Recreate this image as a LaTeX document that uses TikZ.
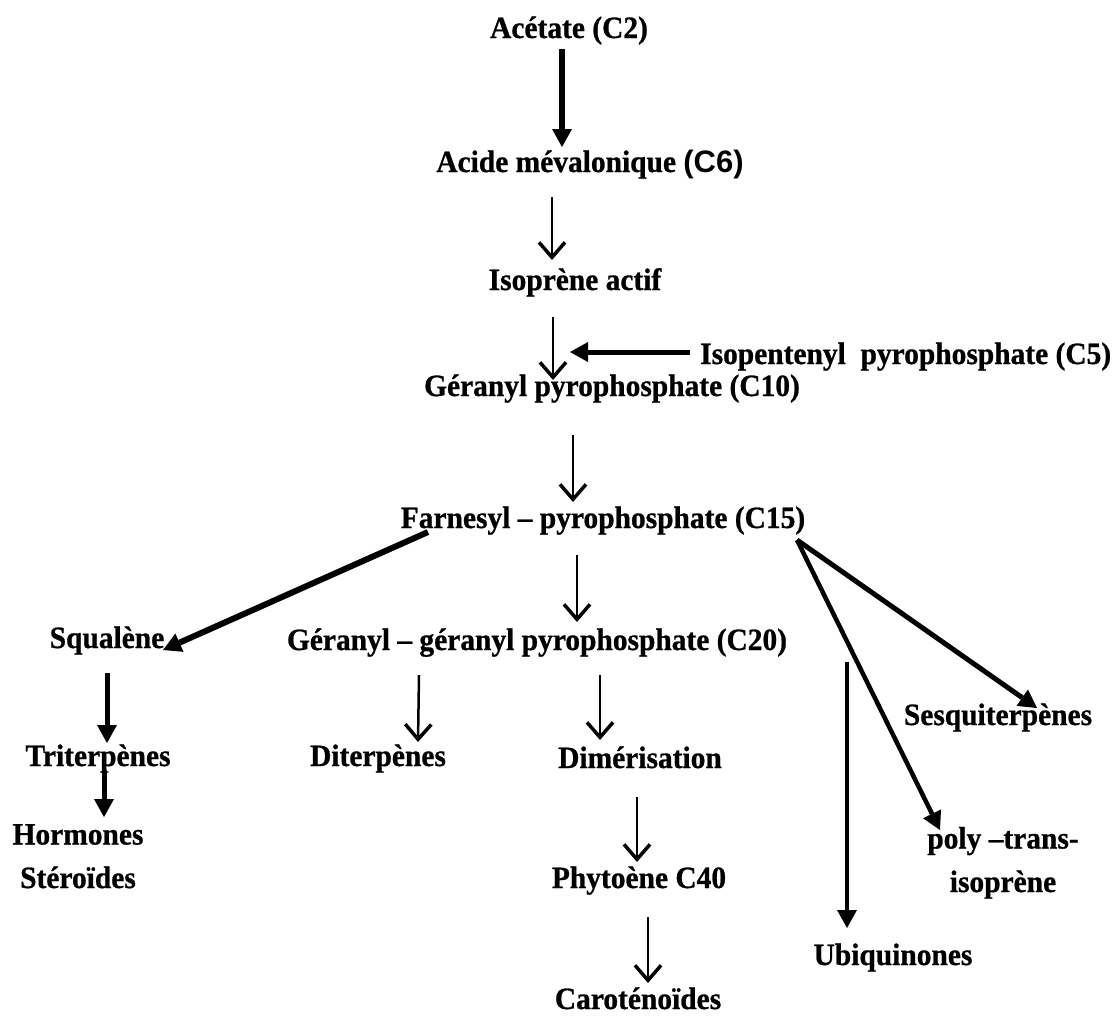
\documentclass[tikz,border=0pt]{standalone}
\usepackage{fontspec}
\setmainfont{Liberation Serif}[BoldFeatures={FakeBold=0.8, FakeStretch=0.95}]
\newfontfamily\arialfont{Liberation Sans}[UprightFont={Liberation Sans Bold}, BoldFont={Liberation Sans Bold}]
\usetikzlibrary{arrows.meta}

\begin{document}
\begin{tikzpicture}[x=1pt, y=-1pt,
    box/.style={anchor=base, inner sep=0pt, font=\fontsize{31}{43.5}\selectfont\bfseries},
    bigarrow/.style={line width=5pt, -{Triangle[length=18pt, width=20pt, line width=0pt]}},
    smallarrow/.style={line width=2.5pt, -{Straight Barb[length=15pt, width=26pt, line width=3.5pt]}}]
    \useasboundingbox (0,0) rectangle (1119,1018);
    \fill[white] (0,0) rectangle (1119,1018);

    % Nodes
    \node[box] (acetate) at (569,38) {Acétate (C2)};
    \node[box] (acide) at (590,172) {Acide mévalonique \arialfont(C6)};
    \node[box] (isoprene) at (575,290) {Isoprène actif};
    \node[box, anchor=base west] (ipp) at (700,364) {Isopentenyl\ \ pyrophosphate (C5)};
    \node[box] (gpp) at (612,396) {Géranyl pyrophosphate (C10)};
    \node[box] (fpp) at (603,528) {Farnesyl – pyrophosphate (C15)};
    \node[box] (squalene) at (107,648) {Squalène};
    \node[box] (ggpp) at (537,650) {Géranyl – géranyl pyrophosphate (C20)};
    \node[box] (triterpenes) at (98,766) {Triterpènes};
    \node[box] (diterpenes) at (378,766) {Diterpènes};
    \node[box] (dimerisation) at (640,768) {Dimérisation};
    \node[box] (sesqui) at (998,725) {Sesquiterpènes};
    \node[box, align=center] (hormones) at (78,888) {Hormones\\Stéroïdes};
    \node[box] (phytoene) at (639,888) {Phytoène C40};
    \node[box, align=center] (polytrans) at (1003,892) {poly –trans-\\isoprène};
    \node[box] (ubiquinones) at (893,965) {Ubiquinones};
    \node[box] (carotenoides) at (638,1009) {Caroténoïdes};
    \coordinate (ubtop) at (847,662);

    % Arrows
    \draw[bigarrow, line width=6.5pt] ([shift={(-7,11)}]acetate.base) -- ([shift={(-28,-25)}]acide.base);
    \draw[smallarrow] ([shift={(-38,25)}]acide.base) -- ([shift={(-23,-30)}]isoprene.base);
    \draw[smallarrow] ([shift={(-22,27)}]isoprene.base) -- ([shift={(-59,-16)}]gpp.base);
    \draw[bigarrow] ([shift={(-10,-12)}]ipp.base west) -- ([shift={(-42,-44)}]gpp.base);
    \draw[smallarrow] ([shift={(-39,39)}]gpp.base) -- ([shift={(-30,-26)}]fpp.base);
    \draw[bigarrow, line width=6pt] ([shift={(-175,4)}]fpp.base) -- ([shift={(56,2)}]squalene.base);
    \draw[smallarrow] ([shift={(-26,27)}]fpp.base) -- ([shift={(40,-28)}]ggpp.base);
    \draw[bigarrow] ([shift={(194,12)}]fpp.base) -- ([shift={(39,-17)}]sesqui.base);
    \draw[bigarrow, line width=4.5pt] ([shift={(194,12)}]fpp.base) -- ([shift={(-63,-62)}]polytrans.base);
    \draw[bigarrow, line width=4.5pt] (ubtop) -- ([shift={(-46,-37)}]ubiquinones.base);
    \draw[bigarrow] ([shift={(0,25)}]squalene.base) -- ([shift={(9,-23)}]triterpenes.base);
    \draw[bigarrow] ([shift={(6,4)}]triterpenes.base) -- ([shift={(26,-71)}]hormones.base);
    \draw[smallarrow] ([shift={(-118,25)}]ggpp.base) -- ([shift={(40,-24)}]diterpenes.base);
    \draw[smallarrow] ([shift={(63,25)}]ggpp.base) -- ([shift={(-40,-28)}]dimerisation.base);
    \draw[smallarrow] ([shift={(-3,29)}]dimerisation.base) -- ([shift={(-2,-26)}]phytoene.base);
    \draw[smallarrow] ([shift={(9,29)}]phytoene.base) -- ([shift={(10,-26)}]carotenoides.base);
\end{tikzpicture}
\end{document}
